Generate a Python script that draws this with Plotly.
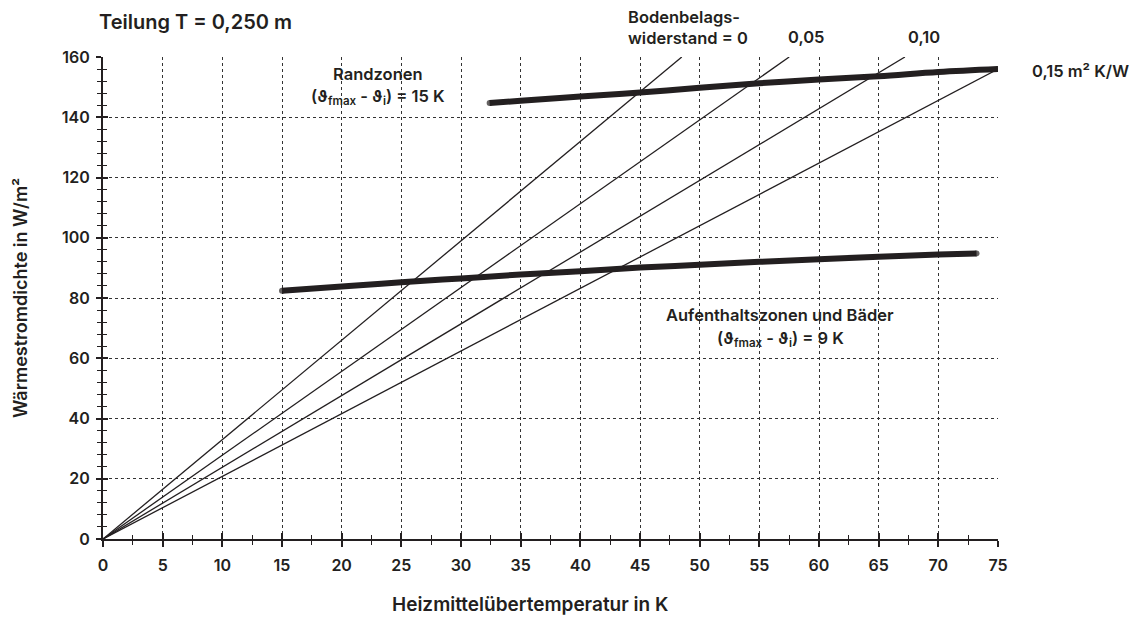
import plotly.graph_objects as go

# ---- data ----
# thin lines (Bodenbelagswiderstand), from origin to where they leave the plot
resist_labels = ["0", "0,05", "0,10", "0,15"]
thin_x_end = [48.5, 57.5, 67.2, 75.0]
thin_y_end = [160.0, 160.0, 160.0, 156.0]

# Randzonen curve (theta_fmax - theta_i = 15 K)
rand_x = [32.4, 35, 40, 45, 50, 55, 60, 65, 70, 75]
rand_y = [144.7, 145.5, 146.9, 148.2, 149.8, 151.3, 152.5, 153.6, 155.0, 156.0]

# Aufenthaltszonen und Baeder curve (9 K)
auf_x = [15, 20, 25, 30, 35, 40, 45, 50, 55, 60, 65, 70, 73.2]
auf_y = [82.4, 83.8, 85.2, 86.5, 87.8, 88.9, 90.1, 91.0, 92.0, 92.9, 93.7, 94.4, 94.8]

x_ticks = [0, 5, 10, 15, 20, 25, 30, 35, 40, 45, 50, 55, 60, 65, 70, 75]
y_ticks = [0, 20, 40, 60, 80, 100, 120, 140, 160]

INK = "#231f20"
FONT = "Inter"

fig = go.Figure()

for xe, ye in zip(thin_x_end, thin_y_end):
    fig.add_trace(go.Scatter(x=[0, xe], y=[0, ye], mode="lines",
                             line=dict(color=INK, width=1.3),
                             hoverinfo="skip", showlegend=False))

def end_sizes(n, s):
    return [s] + [0] * (n - 2) + [s]

fig.add_trace(go.Scatter(x=rand_x, y=rand_y, mode="lines+markers",
                         line=dict(color=INK, width=6, shape="spline"),
                         marker=dict(color=INK, size=end_sizes(len(rand_x), 6), line=dict(width=0)),
                         hoverinfo="skip", showlegend=False))
fig.add_trace(go.Scatter(x=auf_x, y=auf_y, mode="lines+markers",
                         line=dict(color=INK, width=6, shape="spline"),
                         marker=dict(color=INK, size=end_sizes(len(auf_x), 6), line=dict(width=0)),
                         hoverinfo="skip", showlegend=False))
# dummy trace for overlay axes (inner half of ticks)
fig.add_trace(go.Scatter(x=[None], y=[None], xaxis="x2", yaxis="y2",
                         showlegend=False, hoverinfo="skip"))

tickfont = dict(family=FONT, size=16, color=INK, weight=600)
grid = dict(showgrid=True, gridcolor="#333", gridwidth=1, griddash="3px,3px")

# page has an 8px body margin; compensate so the plot lands where the reference has it
fig.update_layout(
    width=1131, height=611,
    margin=dict(l=95, r=141, t=49, b=80),
    paper_bgcolor="white", plot_bgcolor="white",
    font=dict(family=FONT, color=INK),
    xaxis=dict(range=[0, 75], tickvals=x_ticks, ticktext=[str(v) for v in x_ticks],
               ticks="outside", ticklen=6, tickwidth=2, tickcolor=INK,
               showline=True, linecolor=INK, linewidth=2, zeroline=False,
               minor=dict(dtick=2.5, tick0=0, ticks="outside", ticklen=4, tickwidth=1.3,
                          tickcolor=INK, showgrid=False),
               tickfont=tickfont, ticklabelstandoff=5, **grid),
    yaxis=dict(range=[0, 160], tickvals=y_ticks, ticktext=[str(v) for v in y_ticks],
               ticks="outside", ticklen=5, tickwidth=2, tickcolor=INK,
               showline=True, linecolor=INK, linewidth=2, zeroline=False,
               minor=dict(dtick=4, tick0=0, ticks="outside", ticklen=4, tickwidth=1.3,
                          tickcolor=INK, showgrid=False),
               tickfont=tickfont, ticklabelstandoff=3, **grid),
    xaxis2=dict(range=[0, 75], overlaying="x", anchor="y", side="bottom",
                tickvals=x_ticks, ticks="inside", ticklen=6, tickwidth=2, tickcolor=INK,
                minor=dict(dtick=2.5, tick0=0, ticks="inside", ticklen=4, tickwidth=1.3,
                           tickcolor=INK, showgrid=False),
                showticklabels=False, showgrid=False, zeroline=False, showline=False),
    yaxis2=dict(range=[0, 160], overlaying="y", anchor="x", side="left",
                tickvals=y_ticks, ticks="inside", ticklen=5, tickwidth=2, tickcolor=INK,
                minor=dict(dtick=4, tick0=0, ticks="inside", ticklen=4, tickwidth=1.3,
                           tickcolor=INK, showgrid=False),
                showticklabels=False, showgrid=False, zeroline=False, showline=False),
)

xtitle_font = dict(family=FONT, size=19, color=INK, weight=600)
ytitle_font = dict(family=FONT, size=18, color=INK, weight=600)
title_font = dict(family=FONT, size=20, color=INK, weight=600)
small = dict(family=FONT, size=16.5, color=INK, weight=600)

def ann(text, x, y, xanchor="center", yanchor="middle", font=small, align="center"):
    fig.add_annotation(text=text, x=x, y=y, xref="paper", yref="paper", showarrow=False,
                       xanchor=xanchor, yanchor=yanchor, font=font, align=align)

def px(xp):
    return (xp - 103) / (998 - 103)
def py(yp):
    return (539 - yp) / (539 - 57)

ann("Teilung T = 0,250 m", px(97), py(22), xanchor="left", font=title_font)
ann("Bodenbelags-<br>widerstand = 0", px(626), py(27), xanchor="left", align="left")
ann(resist_labels[1], px(806), py(37))
ann(resist_labels[2], px(924), py(37))
ann(resist_labels[3] + " m² K/W", px(1030), py(71), xanchor="left")
ann("Randzonen", px(378), py(74))
ann("(ϑ<sub>fmax</sub> - ϑ<sub>i</sub>) = 15 K", px(378), py(97))
ann("Aufenthaltszonen und Bäder", px(780), py(315))
ann("(ϑ<sub>fmax</sub> - ϑ<sub>i</sub>) = 9 K", px(780), py(339))
ann("Heizmittelübertemperatur in K", px(530), py(604), font=xtitle_font)
fig.add_annotation(text="Wärmestromdichte in W/m²", x=px(20), y=py(298), xref="paper", yref="paper",
                   showarrow=False, textangle=-90, font=ytitle_font, xanchor="center", yanchor="middle")

fig.write_html("out.html")
